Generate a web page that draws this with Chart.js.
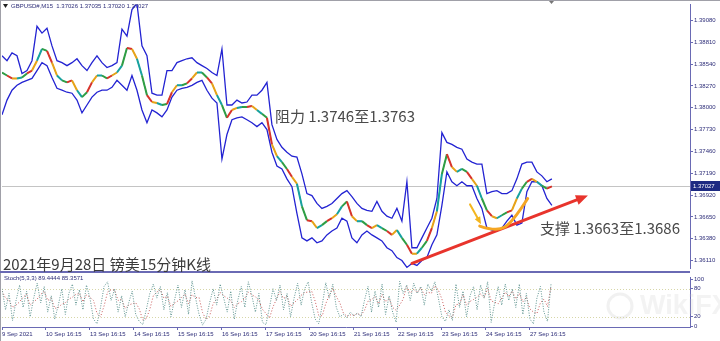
<!DOCTYPE html>
<html>
<head>
<meta charset="utf-8">
<script src="https://cdn.jsdelivr.net/npm/chart.js@4.4.0/dist/chart.umd.min.js"></script>
<style>
  html, body { margin: 0; padding: 0; background: #fff; }
  #wrap { position: relative; width: 720px; height: 341px; overflow: hidden; }
  #main { position: absolute; left: 0; top: 0; }
  #stoch { position: absolute; left: 0; top: 273px; }
</style>
</head>
<body>
<div id="wrap">
  <canvas id="main" width="720" height="273"></canvas>
  <canvas id="stoch" width="720" height="68"></canvas>
</div>
<script>
// x axis is in trading days from 9 Sep; readings taken every ~2.7h (main) and ~1.9h (stoch)
const SAMPLES_PER_DAY = 8.8;
const STOCH_PER_DAY = 12.5;
const X_MAX = 15.64;

const dayLabels = ['9 Sep 2021', '10 Sep 16:15', '13 Sep 16:15', '14 Sep 16:15', '15 Sep 16:15', '16 Sep 16:15',
  '17 Sep 16:15', '20 Sep 16:15', '21 Sep 16:15', '22 Sep 16:15', '23 Sep 16:15', '24 Sep 16:15', '27 Sep 16:15'];
const priceTicks = [1.36110, 1.36380, 1.36650, 1.36920, 1.37190, 1.37460, 1.37730, 1.38000, 1.38270, 1.38540, 1.38810, 1.39080];
const stochTicks = [0, 20, 80, 100];
const lastClose = 1.37027;

const maLine = [
  1.38435, 1.38398, 1.38362, 1.38362, 1.38374, 1.38423, 1.38459, 1.38581, 1.38727, 1.38703,
  1.38557, 1.38398, 1.38338, 1.38313, 1.38338, 1.38216, 1.38131, 1.38191, 1.38313, 1.38398,
  1.38398, 1.38362, 1.38398, 1.38435, 1.38520, 1.38739, 1.38727, 1.38605, 1.38398, 1.38155,
  1.38070, 1.38058, 1.38033, 1.38045, 1.38191, 1.38277, 1.38277, 1.38301, 1.38362, 1.38435,
  1.38435, 1.38374, 1.38301, 1.38155, 1.38033, 1.37875, 1.37972, 1.37997, 1.38009, 1.38009,
  1.38021, 1.37972, 1.37924, 1.37875, 1.37546, 1.37400, 1.37327, 1.37242, 1.37145, 1.37059,
  1.36780, 1.36609, 1.36597, 1.36512, 1.36548, 1.36597, 1.36633, 1.36682, 1.36780, 1.36840,
  1.36658, 1.36597, 1.36597, 1.36548, 1.36512, 1.36548, 1.36512, 1.36475, 1.36427, 1.36487,
  1.36390, 1.36305, 1.36195, 1.36195, 1.36268, 1.36353, 1.36512, 1.36719, 1.37181, 1.37425,
  1.37266, 1.37206, 1.37242, 1.37206, 1.37120, 1.37035, 1.36877, 1.36731, 1.36658, 1.36633,
  1.36670, 1.36706, 1.36731, 1.36877, 1.36999, 1.37084, 1.37120, 1.37084, 1.37035, 1.36999,
  1.37027
];

const upperBand = [
  1.38642, 1.38581, 1.38678, 1.38642, 1.38423, 1.38459, 1.38581, 1.39007, 1.38922, 1.38983,
  1.38764, 1.38581, 1.38557, 1.38520, 1.38557, 1.38605, 1.38520, 1.38459, 1.38557, 1.38642,
  1.38557, 1.38496, 1.38520, 1.38557, 1.38971, 1.38885, 1.39214, 1.39287, 1.38764, 1.38642,
  1.38179, 1.38155, 1.38155, 1.38459, 1.38459, 1.38557, 1.38581, 1.38605, 1.38617, 1.38557,
  1.38520, 1.38484, 1.38435, 1.38398, 1.38727, 1.38033, 1.38033, 1.38094, 1.38058, 1.38070,
  1.38155, 1.38155, 1.38216, 1.38313, 1.37790, 1.37607, 1.37510, 1.37449, 1.37400, 1.37388,
  1.37181, 1.36938, 1.36913, 1.36816, 1.36755, 1.36780, 1.36816, 1.36877, 1.36938, 1.36974,
  1.36901, 1.36816, 1.36755, 1.36731, 1.36719, 1.36840, 1.36719, 1.36658, 1.36633, 1.36755,
  1.36597, 1.37084, 1.36268, 1.36268, 1.36390, 1.36512, 1.36633, 1.36877, 1.37692, 1.37571,
  1.37546, 1.37510, 1.37486, 1.37364, 1.37327, 1.37303, 1.37303, 1.36938, 1.36962, 1.36974,
  1.36938, 1.36938, 1.36974, 1.37120, 1.37303, 1.37327, 1.37327, 1.37206, 1.37157, 1.37084,
  1.37120
];

const lowerBand = [
  1.37912, 1.38094, 1.38216, 1.38277, 1.38313, 1.38338, 1.38362, 1.38459, 1.38557, 1.38520,
  1.38374, 1.38240, 1.38216, 1.38191, 1.38179, 1.38094, 1.37936, 1.38033, 1.38131, 1.38191,
  1.38216, 1.38216, 1.38252, 1.38338, 1.38277, 1.38216, 1.38398, 1.38216, 1.37972, 1.37814,
  1.37972, 1.37936, 1.37887, 1.37972, 1.38131, 1.38216, 1.38240, 1.38252, 1.38277, 1.38313,
  1.38338, 1.38216, 1.38118, 1.38058, 1.37364, 1.37668, 1.37851, 1.37875, 1.37887, 1.37851,
  1.37814, 1.37766, 1.37814, 1.37729, 1.37449, 1.37279, 1.37242, 1.37120, 1.37023, 1.36694,
  1.36390, 1.36353, 1.36390, 1.36329, 1.36353, 1.36427, 1.36475, 1.36512, 1.36633, 1.36597,
  1.36390, 1.36329, 1.36427, 1.36475, 1.36427, 1.36390, 1.36353, 1.36268, 1.36232, 1.36147,
  1.36110, 1.36025, 1.36074, 1.36049, 1.36110, 1.36147, 1.36305, 1.36427, 1.36792, 1.37206,
  1.37084, 1.37035, 1.37084, 1.37035, 1.37035, 1.36877, 1.36755, 1.36512, 1.36487, 1.36475,
  1.36512, 1.36597, 1.36670, 1.36548, 1.36573, 1.36962, 1.37084, 1.37084, 1.37035, 1.36877,
  1.36792
];

const stochMain = [
  80, 35, 70, 12, 55, 88, 40, 75, 20, 60, 92, 50, 85, 30,
  65, 15, 45, 80, 25, 70, 90, 45, 78, 35, 88, 60, 15, 5,
  40, 85, 95, 55, 80, 30, 65, 20, 50, 75, 25, 10, 3, 35,
  70, 90, 60, 85, 35, 72, 20, 55, 88, 40, 78, 25, 97, 60,
  25, 2, 15, 50,
  80, 45, 90, 60, 30, 75, 15, 55, 85, 40, 95,
  65, 30, 70, 8, 3, 40, 80, 55,
  88, 35, 70, 20, 60, 92, 45, 80, 95, 50, 15, 5,
  45, 93, 60, 90, 40, 20,
  25, 18, 30, 22, 28, 20,
  55, 85, 30, 75, 40, 90, 25, 65,
  30, 8, 96, 70,
  88, 55, 92, 70, 85, 45, 90, 75, 95, 60,
  20, 10, 35, 12, 90,
  40, 75, 20, 65, 85, 35,
  88, 60, 95, 8, 50, 85,
  45, 90, 55, 80, 40,
  90, 25, 70, 15, 5, 60, 85,
  30, 10, 89.4444
];

const stochSignal = [
  75, 60, 55, 40, 45, 52, 62, 68, 45, 52, 58, 68, 75, 55,
  60, 38, 40, 47, 50, 58, 62, 68, 70, 52, 67, 62, 55, 27,
  20, 43, 73, 78, 77, 55, 58, 38, 45, 48, 50, 37, 13, 16,
  36, 65, 73, 78, 60, 64, 42, 49, 54, 61, 69, 48, 67, 61,
  61, 29, 14, 22,
  48, 58, 72, 65, 60, 55, 40, 48, 52, 60, 73,
  67, 63, 55, 36, 27, 17, 41, 58,
  74, 59, 64, 42, 50, 57, 66, 72, 73, 75, 53, 23,
  22, 48, 66, 81, 63, 50,
  28, 21, 24, 23, 27, 23,
  34, 53, 57, 63, 48, 68, 52, 60,
  40, 34, 45, 58,
  85, 71, 78, 72, 82, 67, 73, 70, 87, 77,
  58, 30, 22, 19, 46,
  47, 68, 45, 53, 57, 62,
  69, 61, 81, 54, 51, 48,
  60, 73, 63, 75, 58,
  70, 52, 62, 37, 30, 27, 50,
  58, 42, 85.3571
];

// hand-drawn annotations, in (day, price)
const supportArrow = [[9.32, 1.36074], [13.32, 1.36913]];
const dropArrow = [[10.64, 1.36804], [10.89, 1.36560]];
const cupCurve = [[10.86, 1.36536], [11.25, 1.36463], [11.61, 1.36585], [11.95, 1.36877]];

const AXIS = '#6a6ab4';
const INK = '#2d2d78';
const TICK_FONT = { family: 'Liberation Sans', size: 6 };
const NOTE_FONT = '15px "Noto Sans CJK SC", "Noto Sans", sans-serif';
const maColours = ['#2f9e44', '#d9342b', '#e8a317', '#17a2a0'];

const toPoints = (arr, perDay) => arr.map((v, i) => ({ x: i / perDay, y: v }));

function arrow(ctx, x1, y1, x2, y2, colour, width, head) {
  const ang = Math.atan2(y2 - y1, x2 - x1);
  ctx.save();
  ctx.strokeStyle = colour;
  ctx.fillStyle = colour;
  ctx.lineWidth = width;
  ctx.lineCap = 'round';
  ctx.beginPath();
  ctx.moveTo(x1, y1);
  ctx.lineTo(x2 - Math.cos(ang) * head * 0.6, y2 - Math.sin(ang) * head * 0.6);
  ctx.stroke();
  ctx.beginPath();
  ctx.moveTo(x2, y2);
  ctx.lineTo(x2 - head * Math.cos(ang - 0.4), y2 - head * Math.sin(ang - 0.4));
  ctx.lineTo(x2 - head * Math.cos(ang + 0.4), y2 - head * Math.sin(ang + 0.4));
  ctx.closePath();
  ctx.fill();
  ctx.restore();
}

const mainDecor = {
  id: 'mainDecor',
  beforeDatasetsDraw(chart) {
    const { ctx, chartArea: a, scales: { y } } = chart;
    const py = Math.round(y.getPixelForValue(lastClose)) + 0.5;
    ctx.save();
    ctx.strokeStyle = '#c4c4c4';
    ctx.lineWidth = 1;
    ctx.beginPath();
    ctx.moveTo(a.left, py);
    ctx.lineTo(a.right, py);
    ctx.stroke();
    ctx.restore();
  },
  afterDraw(chart) {
    const { ctx, chartArea: a, scales: { x, y } } = chart;
    const px = p => [x.getPixelForValue(p[0]), y.getPixelForValue(p[1])];
    ctx.save();

    // frame
    ctx.fillStyle = '#a0a0a8';
    ctx.fillRect(0, 0, 720, 1);
    ctx.fillRect(0, 0, 1, 273);
    ctx.fillStyle = AXIS;
    ctx.fillRect(0, 271, 690, 2);

    // drawings
    const [s1, s2] = [px(supportArrow[0]), px(supportArrow[1])];
    arrow(ctx, s1[0], s1[1], s2[0], s2[1], '#e8342c', 3, 13);
    const [d1, d2] = [px(dropArrow[0]), px(dropArrow[1])];
    arrow(ctx, d1[0], d1[1], d2[0], d2[1], '#f3b61f', 2, 8);
    const c = cupCurve.map(px);
    ctx.strokeStyle = '#f5a623';
    ctx.lineWidth = 3;
    ctx.lineCap = 'round';
    ctx.beginPath();
    ctx.moveTo(c[0][0], c[0][1]);
    ctx.quadraticCurveTo(c[1][0], c[1][1], (c[1][0] + c[2][0]) / 2, (c[1][1] + c[2][1]) / 2);
    ctx.quadraticCurveTo(c[2][0], c[2][1], c[3][0], c[3][1]);
    ctx.stroke();

    // header
    ctx.fillStyle = '#222';
    ctx.beginPath();
    ctx.moveTo(3, 4); ctx.lineTo(8, 4); ctx.lineTo(5.5, 8); ctx.closePath();
    ctx.fill();
    ctx.fillStyle = '#777';
    ctx.beginPath();
    ctx.moveTo(549, 1); ctx.lineTo(554, 1); ctx.lineTo(551.5, 4); ctx.closePath();
    ctx.fill();
    ctx.font = '6px "Liberation Sans"';
    ctx.fillStyle = INK;
    ctx.textBaseline = 'middle';
    ctx.fillText('GBPUSD#,M15  1.37026 1.37035 1.37020 1.37027', 11, 6);

    // notes
    ctx.font = NOTE_FONT;
    ctx.fillStyle = '#4a4a4a';
    ctx.fillText('阻力 1.3746至1.3763', 275, 116);
    ctx.fillText('支撑 1.3663至1.3686', 540, 228);
    ctx.fillStyle = '#3a3a3a';
    ctx.fillText('2021年9月28日 镑美15分钟K线', 3, 264);

    // last price tag
    const ly = Math.round(y.getPixelForValue(lastClose));
    ctx.fillStyle = '#1d2a82';
    ctx.fillRect(a.right + 1, ly - 5, 29, 10);
    ctx.fillStyle = '#fff';
    ctx.font = '6px "Liberation Sans"';
    ctx.fillText(lastClose.toFixed(5), a.right + 3, ly + 0.5);
    ctx.restore();
  }
};

const stochDecor = {
  id: 'stochDecor',
  beforeDatasetsDraw(chart) {
    const { ctx, chartArea: a, scales: { y } } = chart;
    ctx.save();
    // watermark
    ctx.strokeStyle = 'rgba(200,200,200,0.25)';
    ctx.lineWidth = 3;
    ctx.beginPath();
    ctx.arc(620, 33, 12, 0, Math.PI * 2);
    ctx.stroke();
    ctx.fillStyle = 'rgba(200,200,200,0.22)';
    ctx.font = 'bold 27px "Liberation Sans"';
    ctx.textBaseline = 'middle';
    ctx.fillText('WikiFX', 640, 34);
    // 80 / 20 levels
    ctx.strokeStyle = '#d6d6a8';
    ctx.lineWidth = 1;
    ctx.setLineDash([1, 2]);
    [80, 20].forEach(v => {
      const py = Math.round(y.getPixelForValue(v)) + 0.5;
      ctx.beginPath();
      ctx.moveTo(a.left, py);
      ctx.lineTo(a.right, py);
      ctx.stroke();
    });
    ctx.restore();
  },
  afterDraw(chart) {
    const { ctx } = chart;
    ctx.save();
    ctx.fillStyle = '#a0a0a8';
    ctx.fillRect(0, 0, 1, 68);
    ctx.font = '6px "Liberation Sans"';
    ctx.fillStyle = INK;
    ctx.textBaseline = 'middle';
    ctx.fillText('Stoch(5,3,3) 89.4444 85.3571', 4, 5);
    ctx.restore();
  }
};

const rightAxis = (min, max, ticks, fmt) => ({
  position: 'right',
  min,
  max,
  afterFit: s => { s.width = 30; },
  afterBuildTicks: s => { s.ticks = ticks.map(v => ({ value: v })); },
  ticks: { autoSkip: false, callback: fmt, font: TICK_FONT, color: INK, padding: 1 },
  grid: { drawOnChartArea: false, tickLength: 3, color: AXIS },
  border: { color: AXIS }
});

new Chart(document.getElementById('main').getContext('2d'), {
  type: 'line',
  data: {
    datasets: [
      {
        data: toPoints(maLine, SAMPLES_PER_DAY),
        borderWidth: 2,
        segment: { borderColor: c => maColours[c.p0DataIndex % maColours.length] }
      },
      { data: toPoints(maLine, SAMPLES_PER_DAY), borderColor: '#236b66', borderWidth: 0.8 },
      { data: toPoints(upperBand, SAMPLES_PER_DAY), borderColor: '#2323d2', borderWidth: 1.3 },
      { data: toPoints(lowerBand, SAMPLES_PER_DAY), borderColor: '#2323d2', borderWidth: 1.3 }
    ]
  },
  options: {
    responsive: false,
    animation: false,
    layout: { padding: { left: 2, top: 3, right: 0, bottom: 2 } },
    elements: { point: { radius: 0 }, line: { tension: 0 } },
    plugins: { legend: { display: false }, tooltip: { enabled: false } },
    scales: {
      x: { type: 'linear', display: false, min: 0, max: X_MAX },
      y: rightAxis(1.360127, 1.392748, priceTicks, v => v.toFixed(5))
    }
  },
  plugins: [mainDecor]
});

new Chart(document.getElementById('stoch').getContext('2d'), {
  type: 'line',
  data: {
    datasets: [
      { data: toPoints(stochMain, STOCH_PER_DAY), borderColor: '#5f9490', borderWidth: 1, borderDash: [1, 1.5] },
      { data: toPoints(stochSignal, STOCH_PER_DAY), borderColor: '#c85a5a', borderWidth: 1, borderDash: [1, 2] }
    ]
  },
  options: {
    responsive: false,
    animation: false,
    layout: { padding: { left: 2, top: 2, right: 0, bottom: 0 } },
    elements: { point: { radius: 0 }, line: { tension: 0 } },
    plugins: { legend: { display: false }, tooltip: { enabled: false } },
    scales: {
      x: {
        type: 'linear',
        min: 0,
        max: X_MAX,
        afterBuildTicks: s => { s.ticks = dayLabels.map((_, i) => ({ value: i })); },
        afterFit: s => { s.height = 14; },
        ticks: {
          autoSkip: false,
          maxRotation: 0,
          align: 'start',
          callback: v => dayLabels[Math.round(v)] ?? '',
          font: TICK_FONT,
          color: INK,
          padding: 1
        },
        grid: { drawOnChartArea: false, tickLength: 3, color: AXIS },
        border: { color: AXIS }
      },
      y: rightAxis(-2, 104, stochTicks, v => String(v))
    }
  },
  plugins: [stochDecor]
});
</script>
</body>
</html>
